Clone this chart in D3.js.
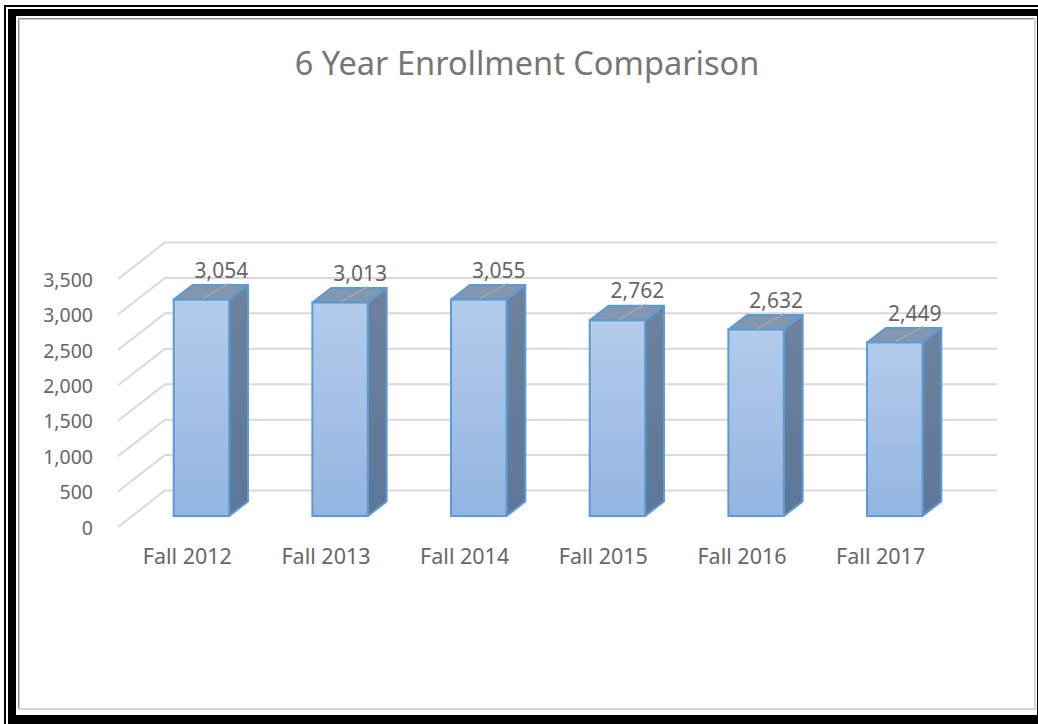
<!DOCTYPE html>
<html>
<head>
<meta charset="utf-8">
<script src="https://cdn.jsdelivr.net/npm/d3@7"></script>
<style>
  html, body { margin: 0; padding: 0; background: #fff; }
  svg { display: block; }
  text { font-family: "Noto Sans", "Open Sans", sans-serif; }
</style>
</head>
<body>
<script>
const title = "6 Year Enrollment Comparison";
const categories = ["Fall 2012", "Fall 2013", "Fall 2014", "Fall 2015", "Fall 2016", "Fall 2017"];
const enrollment = [3054, 3013, 3055, 2762, 2632, 2449];
const tickValues = [0, 500, 1000, 1500, 2000, 2500, 3000, 3500];

const W = 1038, H = 724;
const svg = d3.select("body").append("svg").attr("width", W).attr("height", H);

// ---- frame ----
svg.append("rect").attr("x", 0).attr("y", 0).attr("width", W).attr("height", H).attr("fill", "#fff");
svg.append("rect").attr("x", 4).attr("y", 5).attr("width", W - 4).attr("height", 2).attr("fill", "#000");
svg.append("rect").attr("x", 4).attr("y", 5).attr("width", 2).attr("height", H - 5).attr("fill", "#000");
svg.append("rect").attr("x", 8).attr("y", 9).attr("width", W - 8).attr("height", 7).attr("fill", "#000");
svg.append("rect").attr("x", 8).attr("y", 9).attr("width", 8).attr("height", H - 9).attr("fill", "#000");
svg.append("rect").attr("x", 8).attr("y", 715).attr("width", W - 8).attr("height", 9).attr("fill", "#000");
svg.append("rect").attr("x", 1037).attr("y", 9).attr("width", 1).attr("height", H - 9).attr("fill", "#000");
svg.append("line").attr("x1", 18.5).attr("y1", 18.5).attr("x2", 1035).attr("y2", 18.5).attr("stroke", "#8c8c8c").attr("stroke-width", 1);
svg.append("line").attr("x1", 18.5).attr("y1", 18.5).attr("x2", 18.5).attr("y2", 709).attr("stroke", "#8c8c8c").attr("stroke-width", 1);
svg.append("line").attr("x1", 19.5).attr("y1", 19.5).attr("x2", 1035).attr("y2", 19.5).attr("stroke", "#d0d0d0").attr("stroke-width", 1);
svg.append("line").attr("x1", 19.5).attr("y1", 19.5).attr("x2", 19.5).attr("y2", 709).attr("stroke", "#d0d0d0").attr("stroke-width", 1);
svg.append("line").attr("x1", 1035).attr("y1", 18).attr("x2", 1035).attr("y2", 710).attr("stroke", "#d4d4d4").attr("stroke-width", 2);
svg.append("line").attr("x1", 18).attr("y1", 709).attr("x2", 1036).attr("y2", 709).attr("stroke", "#d4d4d4").attr("stroke-width", 2);

// ---- title ----
svg.append("text")
  .attr("x", 527).attr("y", 75)
  .attr("text-anchor", "middle")
  .attr("font-size", 32.5)
  .attr("fill", "#767676")
  .text(title);

// ---- 3D geometry ----
const frontLeft = 118, frontRight = 950;
const depth = { dx: 47, dy: -36.5 };
const y = d3.scaleLinear().domain([0, 3500]).range([527, 279]);
const x = d3.scaleBand().domain(categories).range([frontLeft, frontRight]).padding(0);
const barW = x.bandwidth() * 0.4;
const d0 = 0.3, d1 = 0.7;

const grid = svg.append("g");
tickValues.forEach(t => {
  const yf = y(t);
  grid.append("polyline")
    .attr("points", [
      [frontLeft, yf],
      [frontLeft + depth.dx, yf + depth.dy],
      [frontRight + depth.dx, yf + depth.dy]
    ].map(p => p.join(",")).join(" "))
    .attr("fill", "none")
    .attr("stroke", "#d9d9d9")
    .attr("stroke-width", 2);
});

const yAxis = d3.axisLeft(y).tickValues(tickValues).tickSize(0).tickPadding(0).tickFormat(d3.format(","));
const yAxisG = svg.append("g").attr("transform", `translate(93,1)`).call(yAxis);
yAxisG.select(".domain").remove();
yAxisG.selectAll("text").attr("font-size", 19.5).attr("fill", "#666").attr("font-family", "Noto Sans, sans-serif");

const xAxis = d3.axisBottom(x).tickSize(0).tickPadding(0);
const xAxisG = svg.append("g").attr("transform", `translate(0,549)`).call(xAxis);
xAxisG.select(".domain").remove();
xAxisG.selectAll("text").attr("font-size", 21.5).attr("fill", "#666").attr("font-family", "Noto Sans, sans-serif");

const defs = svg.append("defs");
const grad = defs.append("linearGradient").attr("id", "frontGrad").attr("x1", 0).attr("y1", 0).attr("x2", 0).attr("y2", 1);
grad.append("stop").attr("offset", "0%").attr("stop-color", "#b3cbea");
grad.append("stop").attr("offset", "100%").attr("stop-color", "#93b5e1");
const sideGrad = defs.append("linearGradient").attr("id", "sideGrad").attr("x1", 0).attr("y1", 0).attr("x2", 0).attr("y2", 1);
sideGrad.append("stop").attr("offset", "0%").attr("stop-color", "#6e829d");
sideGrad.append("stop").attr("offset", "100%").attr("stop-color", "#5c7798");

const stroke = "#5b9bd5";
const bars = svg.append("g");
categories.forEach((c, i) => {
  const v = enrollment[i];
  const cx = x(c) + x.bandwidth() / 2;
  const ox = depth.dx * d0, oy = depth.dy * d0;
  const bx = depth.dx * (d1 - d0), by = depth.dy * (d1 - d0);
  const xl = cx - barW / 2 + ox, xr = cx + barW / 2 + ox;
  const yb = y(0) + oy, yt = y(v) + oy;
  const g = bars.append("g");
  g.append("polygon")
    .attr("points", [[xr, yt], [xr + bx, yt + by], [xr + bx, yb + by], [xr, yb]].map(p => p.join(",")).join(" "))
    .attr("fill", "url(#sideGrad)").attr("stroke", stroke).attr("stroke-width", 2).attr("stroke-linejoin", "round");
  g.append("polygon")
    .attr("points", [[xl, yt], [xl + bx, yt + by], [xr + bx, yt + by], [xr, yt]].map(p => p.join(",")).join(" "))
    .attr("fill", "#8396b0").attr("stroke", stroke).attr("stroke-width", 2).attr("stroke-linejoin", "round");
  g.append("rect")
    .attr("x", xl).attr("y", yt).attr("width", barW).attr("height", yb - yt)
    .attr("fill", "url(#frontGrad)").attr("stroke", stroke).attr("stroke-width", 2);

  const lx = (xl + xr) / 2 + 20, ly = yt - 22;
  g.append("line")
    .attr("x1", (xl + xr) / 2 + 1).attr("y1", yt - 1)
    .attr("x2", lx + 8).attr("y2", ly + 6)
    .attr("stroke", "#a6a6a6").attr("stroke-width", 1.5);
  g.append("text")
    .attr("x", lx).attr("y", ly)
    .attr("text-anchor", "middle")
    .attr("font-size", 21)
    .attr("fill", "#666")
    .text(d3.format(",")(v));
});
</script>
</body>
</html>
